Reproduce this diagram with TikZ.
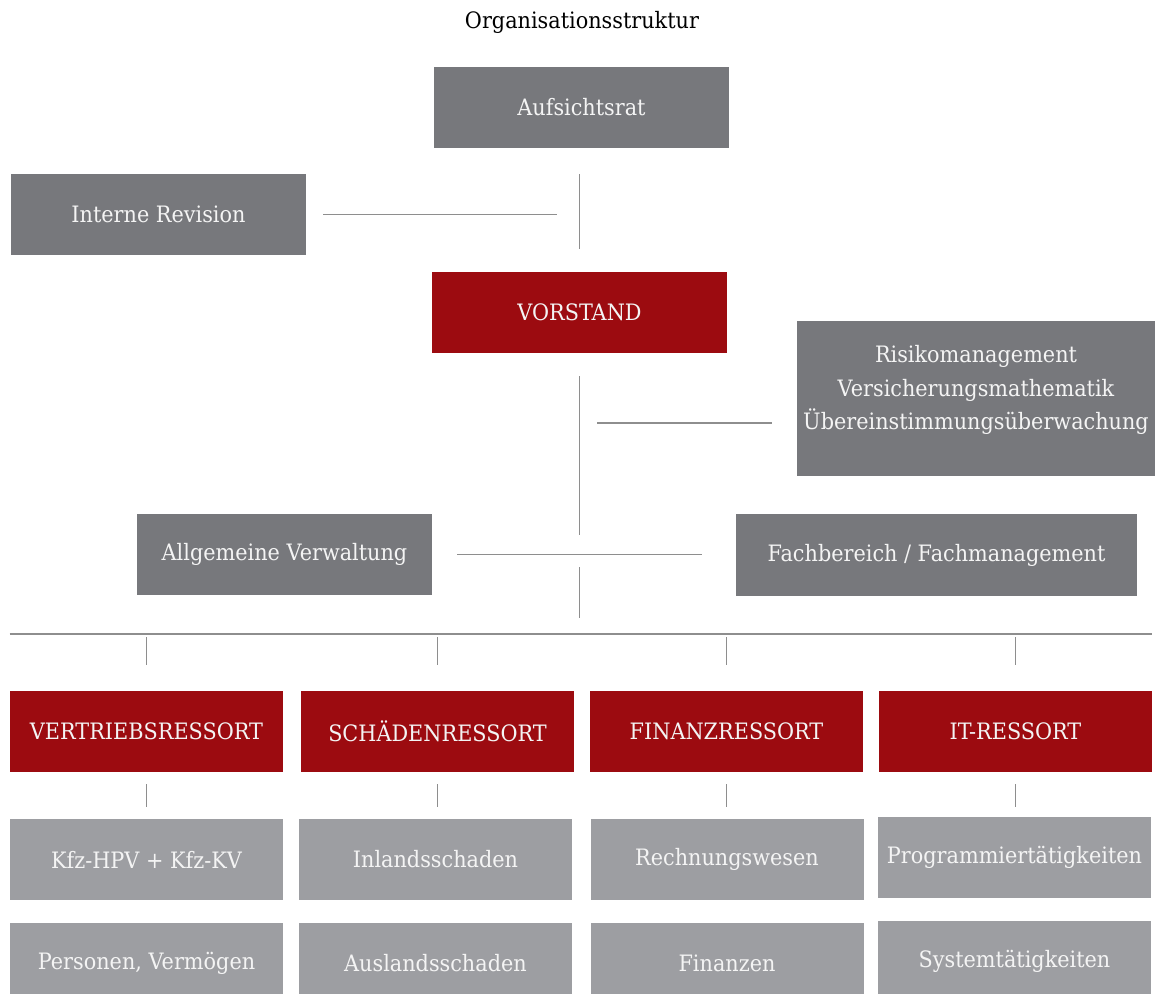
\documentclass[tikz,border=0pt]{standalone}
\usepackage{fontspec}
\setmainfont{DejaVu Serif}[FakeStretch=0.92]
\usepackage{tikz}
\usetikzlibrary{positioning,calc}

\definecolor{boxgray}{HTML}{77787C}
\definecolor{boxred}{HTML}{9C0B10}
\definecolor{subgray}{HTML}{9D9EA2}
\definecolor{linegray}{HTML}{8E8E8E}
\definecolor{boxtext}{HTML}{F4F4F4}

\tikzset{
    unit/.style={fill=boxgray, text=boxtext, inner sep=0pt, minimum width=147.5pt, minimum height=40.5pt, font=\fontsize{11.3}{16.75}\selectfont},
    ressort/.style={unit, fill=boxred, minimum width=136.5pt},
    abteilung/.style={unit, fill=subgray, minimum width=136.5pt},
    link/.style={draw=linegray, line width=0.6pt}
}

\begin{document}
\begin{tikzpicture}[x=0.5pt, y=-0.5pt]
    \useasboundingbox (0,0) rectangle (1155,994);
    \clip (0,0) rectangle (1155,994);

    % Title
    \node[font=\fontsize{11.3}{16}\selectfont] (title) at (582,22) {Organisationsstruktur};

    % Top level
    \node[unit] (aufsicht) at (581.5,107.5) {Aufsichtsrat};
    \node[unit] (revision) at (158.5,214.5) {Interne Revision};
    \node[unit, fill=boxred] (vorstand) at (579.5,312.5) {VORSTAND};
    \node[unit, minimum width=179pt, minimum height=77.5pt, align=center] (risiko) at (976,398.5)
        {Risikomanagement\\Versicherungsmathematik\\Übereinstimmungsüberwachung\\[-6pt]};
    \node[unit] (verwaltung) at (284.5,554.5) {Allgemeine Verwaltung};
    \node[unit, minimum width=200.5pt, minimum height=41pt] (fach) at (936.5,555) {Fachbereich / Fachmanagement};

    % Ressorts
    \node[ressort] (vertrieb) at (146.5,731.5) {VERTRIEBSRESSORT};
    \node[ressort] (schaden) at (437.5,731.5) {SCHÄDENRESSORT};
    \node[ressort] (finanz) at (726.5,731.5) {FINANZRESSORT};
    \node[ressort] (it) at (1015.5,731.5) {IT-RESSORT};

    % Abteilungen
    \node[abteilung] (kfz) at (146.5,859.5) {Kfz-HPV + Kfz-KV};
    \node[abteilung] (inland) at (435.5,859.5) {Inlandsschaden};
    \node[abteilung] (rechnung) at (727,859.5) {Rechnungswesen};
    \node[abteilung] (programm) at (1014.5,857.5) {Programmiertätigkeiten};
    \node[abteilung] (personen) at (146.5,963.5) {Personen, Vermögen};
    \node[abteilung] (ausland) at (435.5,963.5) {Auslandsschaden};
    \node[abteilung] (finanzen) at (727,963.5) {Finanzen};
    \node[abteilung] (system) at (1014.5,961.5) {Systemtätigkeiten};

    % Junctions on the trunk
    \coordinate (riskjoin) at (579.5,423);
    \coordinate (hub) at (579.5,554.5);
    \coordinate (bus) at (579.5,634);

    % Trunk
    \draw[link, shorten <=13pt, shorten >=11.5pt] (aufsicht.south -| vorstand.north) -- (vorstand.north);
    \draw[link, shorten <=8.5pt, shorten >=11.5pt] (revision.east) -- (revision.east -| vorstand.north);
    \draw[link, shorten <=11.5pt, shorten >=9.75pt] (vorstand.south) -- (hub);
    \draw[link, shorten <=8.75pt, shorten >=12.5pt] (riskjoin) -- (riskjoin -| risiko.west);
    \draw[link, shorten <=12.5pt, shorten >=17pt] (verwaltung.east) -- (verwaltung.east -| fach.west);
    \draw[link, shorten <=6.25pt, shorten >=8pt] (hub) -- (bus);

    % Bus
    \draw[link, line width=0.75pt] (bus -| vertrieb.west) -- (bus -| it.east);
    \foreach \r in {vertrieb, schaden, finanz, it}
        \draw[link, shorten <=1.5pt, shorten >=13pt] (bus -| \r.north) -- (\r.north);

    % Ressorts to Abteilungen
    \draw[link, shorten <=6pt, shorten >=6pt] (vertrieb.south) -- (vertrieb.south |- kfz.north);
    \draw[link, shorten <=6pt, shorten >=6pt] (schaden.south) -- (schaden.south |- inland.north);
    \draw[link, shorten <=6pt, shorten >=6pt] (finanz.south) -- (finanz.south |- rechnung.north);
    \draw[link, shorten <=6pt, shorten >=5pt] (it.south) -- (it.south |- programm.north);
\end{tikzpicture}
\end{document}
